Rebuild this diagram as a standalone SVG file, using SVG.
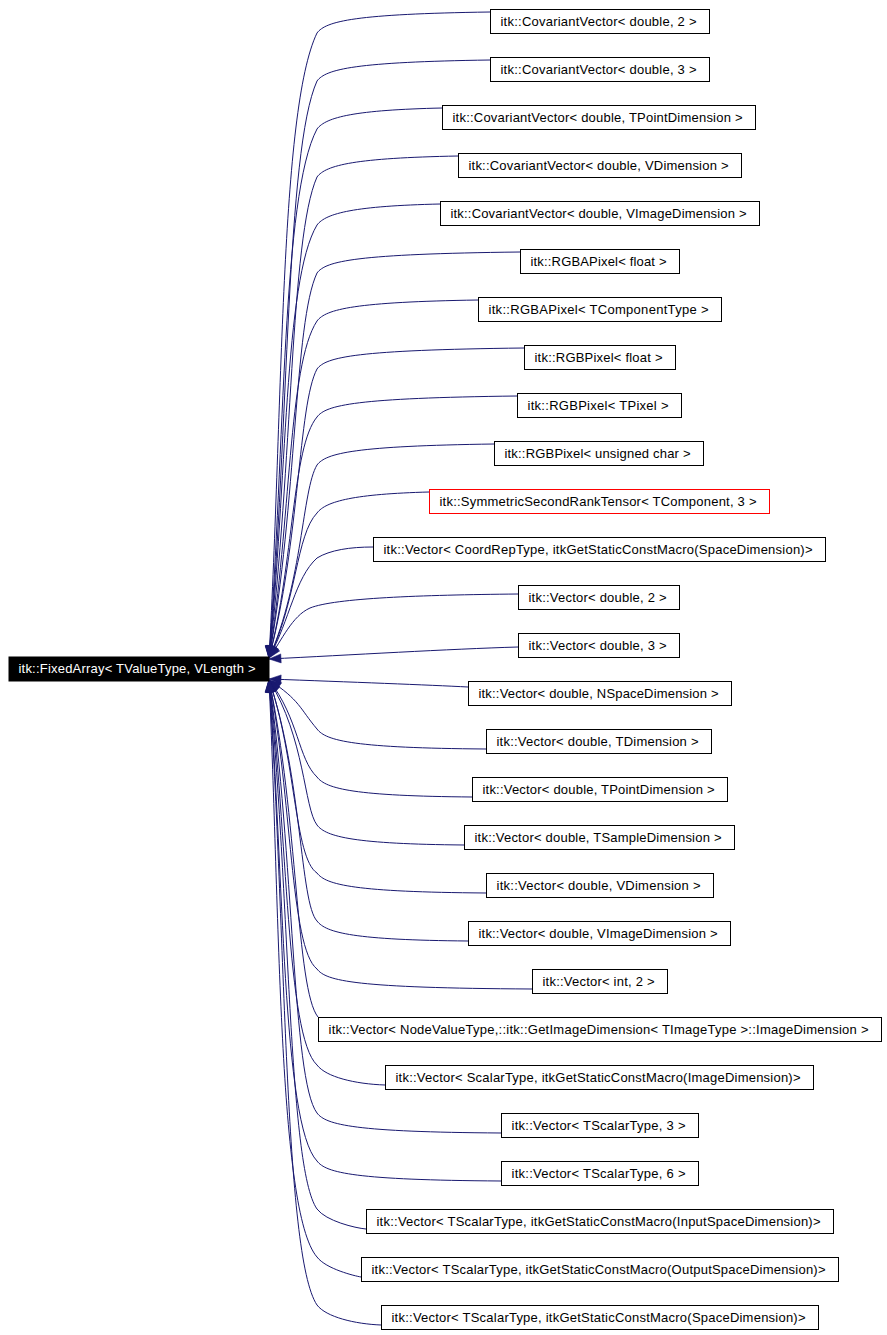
<svg xmlns="http://www.w3.org/2000/svg" width="887" height="1335" viewBox="0 0 887 1335">
<style>
.e{fill:none;stroke:#191970;stroke-width:1;marker-start:url(#ah)}
.n rect{fill:#fff;stroke:#000;stroke-width:1}
.n text,.r text{font-family:"Liberation Sans",Arial,sans-serif;font-size:13px;fill:#000}
.r rect{fill:#000;stroke:#000}
.r text{fill:#fff}
</style>
<defs>
<marker id="ah" markerUnits="userSpaceOnUse" viewBox="0 -5 13 10" refX="0" refY="0" markerWidth="13" markerHeight="10" orient="auto" overflow="visible">
<path d="M0,0 L12,-4.5 L12,4.5 Z" fill="#191970" stroke="#191970" stroke-width="0.5"/>
</marker>
</defs>
<rect width="887" height="1335" fill="#fff"/>
<g id="edges">
<path class="e" d="M269,658 C283,408 280,110 317,33 C326,21 355,14 490,12"/>
<path class="e" d="M269,658 C289,427 286,150 317,81 C326,69 355,62 490,60"/>
<path class="e" d="M269,658 C285,446 282,195 317,129 C326,117 355,110 442,108"/>
<path class="e" d="M269,658 C293,466 290,238 317,177 C326,165 355,158 458,156"/>
<path class="e" d="M269,658 C287,485 284,280 317,225 C326,213 355,206 440,204"/>
<path class="e" d="M269,658 C297,504 294,322 317,273 C326,261 355,254 520,252"/>
<path class="e" d="M269,658 C291,523 288,365 317,321 C326,309 355,302 478,300"/>
<path class="e" d="M269,658 C300,542 298,405 317,369 C326,357 355,350 524,348"/>
<path class="e" d="M269,658 C294,562 292,447 317,417 C326,405 355,398 517,396"/>
<path class="e" d="M269,658 C303,581 302,490 317,465 C326,453 355,446 494,444"/>
<path class="e" d="M269,658 C297,600 296,535 317,513 C326,501 355,494 429,492"/>
<path class="e" d="M269,658 C290,619 295,578 317,558 C330,550 350,547 373,547"/>
<path class="e" d="M269,658 C282,640 292,616 310,608 C335,598 420,595 518,594"/>
<path class="e" d="M269,659 C350,655 450,649 518,647"/>
<path class="e" d="M269,679 C350,682 430,685 468,687"/>
<path class="e" d="M269,680 C300,700 300,709 317,729 C326,741 355,748 486,749"/>
<path class="e" d="M269,680 C299,719 298,759 317,777 C326,789 355,796 472,797"/>
<path class="e" d="M269,680 C305,738 304,808 317,825 C326,837 355,844 464,845"/>
<path class="e" d="M269,680 C296,757 294,858 317,873 C326,885 355,892 486,893"/>
<path class="e" d="M269,680 C302,776 300,903 317,921 C326,933 355,940 468,941"/>
<path class="e" d="M269,680 C292,796 290,948 317,969 C326,981 355,988 532,989"/>
<path class="e" d="M269,680 C298,815 296,990 318,1017"/>
<path class="e" d="M269,680 C288,834 286,1036 317,1065 C326,1077 355,1084 385,1085"/>
<path class="e" d="M269,680 C294,853 292,1080 317,1113 C326,1125 355,1132 501,1133"/>
<path class="e" d="M269,680 C284,872 282,1124 317,1161 C326,1173 355,1180 501,1181"/>
<path class="e" d="M269,680 C290,892 288,1168 317,1209 C326,1221 355,1228 366,1229"/>
<path class="e" d="M269,680 C280,911 278,1212 317,1257 C326,1269 355,1276 361,1277"/>
<path class="e" d="M269,680 C286,930 284,1256 317,1305 C326,1317 355,1324 381,1325"/>
</g>
<g id="root" class="r"><rect x="9" y="657" width="260" height="24"/><text x="18.5" y="672.5" textLength="237" lengthAdjust="spacing">itk::FixedArray&lt; TValueType, VLength &gt;</text></g>
<g id="n0" class="n"><rect x="490.5" y="9.5" width="219" height="24"/><text x="500.5" y="25.5" textLength="196" lengthAdjust="spacing">itk::CovariantVector&lt; double, 2 &gt;</text></g>
<g id="n1" class="n"><rect x="490.5" y="57.5" width="219" height="24"/><text x="500.5" y="73.5" textLength="196" lengthAdjust="spacing">itk::CovariantVector&lt; double, 3 &gt;</text></g>
<g id="n2" class="n"><rect x="442.5" y="105.5" width="313" height="24"/><text x="452.5" y="121.5" textLength="290" lengthAdjust="spacing">itk::CovariantVector&lt; double, TPointDimension &gt;</text></g>
<g id="n3" class="n"><rect x="458.5" y="153.5" width="283" height="24"/><text x="468.5" y="169.5" textLength="260" lengthAdjust="spacing">itk::CovariantVector&lt; double, VDimension &gt;</text></g>
<g id="n4" class="n"><rect x="440.5" y="201.5" width="319" height="24"/><text x="450.5" y="217.5" textLength="296" lengthAdjust="spacing">itk::CovariantVector&lt; double, VImageDimension &gt;</text></g>
<g id="n5" class="n"><rect x="520.5" y="249.5" width="159" height="24"/><text x="530.5" y="265.5" textLength="136" lengthAdjust="spacing">itk::RGBAPixel&lt; float &gt;</text></g>
<g id="n6" class="n"><rect x="478.5" y="297.5" width="243" height="24"/><text x="488.5" y="313.5" textLength="220" lengthAdjust="spacing">itk::RGBAPixel&lt; TComponentType &gt;</text></g>
<g id="n7" class="n"><rect x="524.5" y="345.5" width="151" height="24"/><text x="534.5" y="361.5" textLength="128" lengthAdjust="spacing">itk::RGBPixel&lt; float &gt;</text></g>
<g id="n8" class="n"><rect x="517.5" y="393.5" width="164" height="24"/><text x="527.5" y="409.5" textLength="141" lengthAdjust="spacing">itk::RGBPixel&lt; TPixel &gt;</text></g>
<g id="n9" class="n"><rect x="494.5" y="441.5" width="209" height="24"/><text x="504.5" y="457.5" textLength="186" lengthAdjust="spacing">itk::RGBPixel&lt; unsigned char &gt;</text></g>
<g id="n10" class="n"><rect x="429.5" y="489.5" width="340" height="24" style="stroke:#ff0000"/><text x="439.5" y="505.5" textLength="317" lengthAdjust="spacing">itk::SymmetricSecondRankTensor&lt; TComponent, 3 &gt;</text></g>
<g id="n11" class="n"><rect x="373.5" y="537.5" width="452" height="24"/><text x="383.5" y="553.5" textLength="429" lengthAdjust="spacing">itk::Vector&lt; CoordRepType, itkGetStaticConstMacro(SpaceDimension)&gt;</text></g>
<g id="n12" class="n"><rect x="518.5" y="585.5" width="161" height="24"/><text x="528.5" y="601.5" textLength="138" lengthAdjust="spacing">itk::Vector&lt; double, 2 &gt;</text></g>
<g id="n13" class="n"><rect x="518.5" y="633.5" width="161" height="24"/><text x="528.5" y="649.5" textLength="138" lengthAdjust="spacing">itk::Vector&lt; double, 3 &gt;</text></g>
<g id="n14" class="n"><rect x="468.5" y="681.5" width="263" height="24"/><text x="478.5" y="697.5" textLength="240" lengthAdjust="spacing">itk::Vector&lt; double, NSpaceDimension &gt;</text></g>
<g id="n15" class="n"><rect x="486.5" y="729.5" width="225" height="24"/><text x="496.5" y="745.5" textLength="202" lengthAdjust="spacing">itk::Vector&lt; double, TDimension &gt;</text></g>
<g id="n16" class="n"><rect x="472.5" y="777.5" width="255" height="24"/><text x="482.5" y="793.5" textLength="232" lengthAdjust="spacing">itk::Vector&lt; double, TPointDimension &gt;</text></g>
<g id="n17" class="n"><rect x="464.5" y="825.5" width="270" height="24"/><text x="474.5" y="841.5" textLength="247" lengthAdjust="spacing">itk::Vector&lt; double, TSampleDimension &gt;</text></g>
<g id="n18" class="n"><rect x="486.5" y="873.5" width="227" height="24"/><text x="496.5" y="889.5" textLength="204" lengthAdjust="spacing">itk::Vector&lt; double, VDimension &gt;</text></g>
<g id="n19" class="n"><rect x="468.5" y="921.5" width="262" height="24"/><text x="478.5" y="937.5" textLength="239" lengthAdjust="spacing">itk::Vector&lt; double, VImageDimension &gt;</text></g>
<g id="n20" class="n"><rect x="532.5" y="969.5" width="135" height="24"/><text x="542.5" y="985.5" textLength="112" lengthAdjust="spacing">itk::Vector&lt; int, 2 &gt;</text></g>
<g id="n21" class="n"><rect x="318.5" y="1017.5" width="563" height="24"/><text x="328.5" y="1033.5" textLength="540" lengthAdjust="spacing">itk::Vector&lt; NodeValueType,::itk::GetImageDimension&lt; TImageType &gt;::ImageDimension &gt;</text></g>
<g id="n22" class="n"><rect x="385.5" y="1065.5" width="428" height="24"/><text x="395.5" y="1081.5" textLength="405" lengthAdjust="spacing">itk::Vector&lt; ScalarType, itkGetStaticConstMacro(ImageDimension)&gt;</text></g>
<g id="n23" class="n"><rect x="501.5" y="1113.5" width="197" height="24"/><text x="511.5" y="1129.5" textLength="174" lengthAdjust="spacing">itk::Vector&lt; TScalarType, 3 &gt;</text></g>
<g id="n24" class="n"><rect x="501.5" y="1161.5" width="197" height="24"/><text x="511.5" y="1177.5" textLength="174" lengthAdjust="spacing">itk::Vector&lt; TScalarType, 6 &gt;</text></g>
<g id="n25" class="n"><rect x="366.5" y="1209.5" width="467" height="24"/><text x="376.5" y="1225.5" textLength="444" lengthAdjust="spacing">itk::Vector&lt; TScalarType, itkGetStaticConstMacro(InputSpaceDimension)&gt;</text></g>
<g id="n26" class="n"><rect x="361.5" y="1257.5" width="477" height="24"/><text x="371.5" y="1273.5" textLength="454" lengthAdjust="spacing">itk::Vector&lt; TScalarType, itkGetStaticConstMacro(OutputSpaceDimension)&gt;</text></g>
<g id="n27" class="n"><rect x="381.5" y="1305.5" width="437" height="24"/><text x="391.5" y="1321.5" textLength="414" lengthAdjust="spacing">itk::Vector&lt; TScalarType, itkGetStaticConstMacro(SpaceDimension)&gt;</text></g>
</svg>
